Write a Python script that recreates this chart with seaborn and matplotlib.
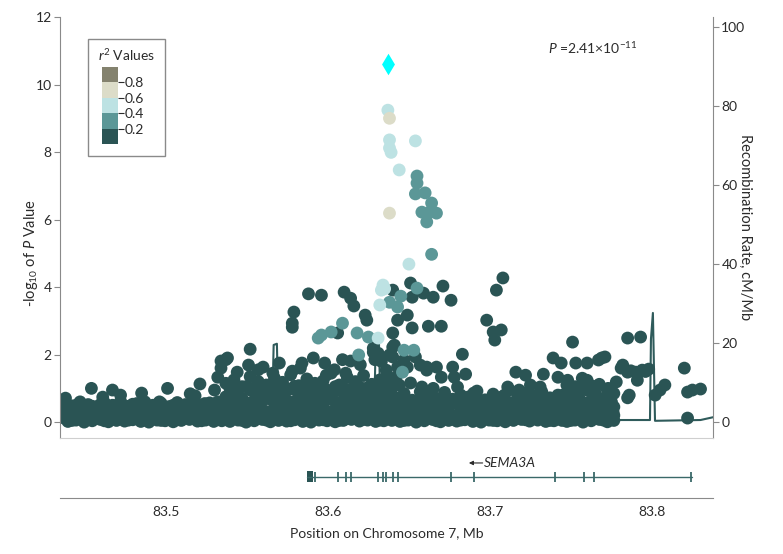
import pandas as pd
import matplotlib
matplotlib.use("Agg")
import matplotlib as mpl
import matplotlib.pyplot as plt
import seaborn as sns
from matplotlib.colors import ListedColormap, BoundaryNorm
from matplotlib.patches import Rectangle

sns.set_style("white")
plt.rcParams['font.family'] = ['Lato', 'DejaVu Sans']
plt.rcParams['mathtext.fontset'] = 'custom'
plt.rcParams['mathtext.rm'] = 'Lato'
plt.rcParams['mathtext.it'] = 'Lato:italic'

# r2 classes and colours
r2_labels = ["0.0-0.2", "0.2-0.4", "0.4-0.6", "0.6-0.8", "0.8-1.0"]
r2_colors = ["#2a5454", "#5b9797", "#bde2e3", "#dcdcc8", "#84826e"]

# lead SNP
lead_pos = [83.637]
lead_logp = [10.62]

# dense band of low-LD SNPs (r2 < 0.2), read row by row
left_pos = [83.437, 83.442, 83.447, 83.452, 83.457, 83.462, 83.467, 83.472, 83.477, 83.482,
            83.487, 83.492, 83.497, 83.502, 83.507, 83.512, 83.517, 83.522, 83.527, 83.532]
left_rows = [
    [0.12, 0.05, 0.18, 0.08, 0.15, 0.04, 0.20, 0.10, 0.06, 0.16, 0.09, 0.13, 0.05, 0.19, 0.07, 0.14, 0.10, 0.04, 0.17, 0.08],
    [0.38, 0.30, 0.34, 0.40, 0.28, 0.36, 0.31, 0.39, 0.33, 0.29, 0.37, 0.32, 0.40, 0.30, 0.35, 0.38, 0.28, 0.36, 0.33, 0.39],
    [0.55, 0.48, 0.60, 0.52, 0.45, 0.58, 0.50, 0.62, 0.47, 0.55, 0.60, 0.50, 0.56, 0.46, 0.58, 0.52, 0.62, 0.49, 0.57, 0.60],
]
left_pos_b = [83.4395, 83.4445, 83.4495, 83.4545, 83.4595, 83.4645, 83.4695, 83.4745, 83.4795, 83.4845,
              83.4895, 83.4945, 83.4995, 83.5045, 83.5095, 83.5145, 83.5195, 83.5245, 83.5295, 83.5345]
left_rows_b = [
    [0.25, 0.22, 0.30, 0.18, 0.27, 0.24, 0.32, 0.20, 0.28, 0.23, 0.26, 0.30, 0.21, 0.29, 0.24, 0.27, 0.19, 0.31, 0.25, 0.22],
    [0.02, 0.06, 0.00, 0.04, 0.08, 0.01, 0.05, 0.03, 0.07, 0.02, 0.00, 0.06, 0.04, 0.01, 0.05, 0.08, 0.03, 0.06, 0.02, 0.04],
    [0.45, 0.50, 0.42, 0.47, 0.52, 0.44, 0.49, 0.46, 0.53, 0.43, 0.48, 0.51, 0.45, 0.50, 0.44, 0.47, 0.52, 0.46, 0.50, 0.48],
]
center_pos = [83.537, 83.542, 83.547, 83.552, 83.557, 83.562, 83.567, 83.572, 83.577, 83.582, 83.587,
              83.592, 83.597, 83.602, 83.607, 83.612, 83.617, 83.622, 83.627, 83.632, 83.637]
center_rows = [
    [0.08, 0.15, 0.05, 0.12, 0.18, 0.06, 0.10, 0.16, 0.04, 0.13, 0.09, 0.20, 0.07, 0.14, 0.05, 0.11, 0.17, 0.08, 0.12, 0.06, 0.15],
    [0.42, 0.35, 0.50, 0.38, 0.46, 0.31, 0.55, 0.40, 0.48, 0.33, 0.52, 0.37, 0.44, 0.30, 0.50, 0.41, 0.36, 0.47, 0.39, 0.45, 0.34],
    [0.75, 0.88, 0.70, 0.95, 0.80, 0.90, 0.72, 0.85, 0.98, 0.78, 0.92, 0.70, 0.86, 0.80, 0.94, 0.76, 0.88, 0.82, 0.90, 0.74, 0.84],
    [1.15, 1.25, 1.05, 1.35, 1.20, 1.10, 1.30, 1.18, 1.40, 1.08, 1.28, 1.15, 1.22, 1.45, 1.10, 1.32, 1.20, 1.38, 1.12, 1.25, 1.30],
]
center_pos_b = [83.5395, 83.5445, 83.5495, 83.5545, 83.5595, 83.5645, 83.5695, 83.5745, 83.5795, 83.5845, 83.5895,
                83.5945, 83.5995, 83.6045, 83.6095, 83.6145, 83.6195, 83.6245, 83.6295, 83.6345, 83.6395]
center_rows_b = [
    [0.25, 0.22, 0.30, 0.18, 0.27, 0.24, 0.32, 0.20, 0.28, 0.23, 0.26, 0.30, 0.21, 0.29, 0.24, 0.27, 0.19, 0.31, 0.25, 0.22, 0.28],
    [0.02, 0.06, 0.00, 0.04, 0.08, 0.01, 0.05, 0.03, 0.07, 0.02, 0.00, 0.06, 0.04, 0.01, 0.05, 0.08, 0.03, 0.06, 0.02, 0.04, 0.05],
    [0.60, 0.66, 0.58, 0.64, 0.62, 0.68, 0.57, 0.65, 0.61, 0.67, 0.59, 0.63, 0.66, 0.60, 0.64, 0.58, 0.67, 0.62, 0.65, 0.60, 0.63],
    [1.00, 0.98, 1.05, 1.02, 0.96, 1.04, 1.00, 0.97, 1.06, 1.01, 0.99, 1.03, 0.95, 1.05, 1.00, 0.98, 1.04, 1.02, 0.97, 1.06, 1.00],
]
right_pos = [83.642, 83.647, 83.652, 83.657, 83.662, 83.667, 83.672, 83.677, 83.682, 83.687, 83.692,
             83.697, 83.702, 83.707, 83.712, 83.717, 83.722, 83.727, 83.732, 83.737, 83.742]
right_rows = [
    [0.10, 0.05, 0.15, 0.08, 0.12, 0.04, 0.18, 0.09, 0.06, 0.14, 0.10, 0.16, 0.05, 0.12, 0.08, 0.18, 0.07, 0.13, 0.10, 0.05, 0.15],
    [0.40, 0.48, 0.35, 0.52, 0.30, 0.45, 0.38, 0.55, 0.42, 0.33, 0.50, 0.37, 0.46, 0.40, 0.53, 0.34, 0.48, 0.41, 0.36, 0.50, 0.44],
    [0.72, 0.85, 0.65, 0.90, 0.78, 0.70, 0.88, 0.68, 0.80, 0.75, 0.92, 0.66, 0.83, 0.74, 0.95, 0.70, 0.86, 0.78, 0.90, 0.72, 0.80],
]
right_pos_b = [83.6445, 83.6495, 83.6545, 83.6595, 83.6645, 83.6695, 83.6745, 83.6795, 83.6845, 83.6895, 83.6945,
               83.6995, 83.7045, 83.7095, 83.7145, 83.7195, 83.7245, 83.7295, 83.7345, 83.7395, 83.7445]
right_rows_b = [
    [0.25, 0.22, 0.30, 0.18, 0.27, 0.24, 0.32, 0.20, 0.28, 0.23, 0.26, 0.30, 0.21, 0.29, 0.24, 0.27, 0.19, 0.31, 0.25, 0.22, 0.28],
    [0.02, 0.06, 0.00, 0.04, 0.08, 0.01, 0.05, 0.03, 0.07, 0.02, 0.00, 0.06, 0.04, 0.01, 0.05, 0.08, 0.03, 0.06, 0.02, 0.04, 0.05],
    [0.60, 0.55, 0.62, 0.58, 0.64, 0.56, 0.61, 0.59, 0.63, 0.57, 0.60, 0.65, 0.55, 0.62, 0.58, 0.61, 0.64, 0.57, 0.60, 0.63, 0.59],
]
far_pos = [83.745, 83.750, 83.755, 83.760, 83.765, 83.770, 83.775]
far_rows = [
    [0.10, 0.05, 0.15, 0.08, 0.12, 0.06, 0.10],
    [0.45, 0.38, 0.50, 0.35, 0.42, 0.48, 0.30],
    [0.80, 0.90, 0.72, 0.95, 0.85, 0.70, 0.60],
]
far_pos_b = [83.7475, 83.7525, 83.7575, 83.7625, 83.7675, 83.7725, 83.7765]
far_rows_b = [
    [0.25, 0.22, 0.30, 0.18, 0.27, 0.24, 0.20],
    [0.02, 0.06, 0.00, 0.04, 0.08, 0.01, 0.05],
    [0.62, 0.66, 0.58, 0.64, 0.60, 0.55, 0.45],
    [1.10, 1.05, 1.15, 1.08, 1.12, 0.95, 0.85],
]

# scattered low-LD SNPs above the band
dark_pos = [83.438, 83.454, 83.461, 83.467, 83.472, 83.485, 83.496, 83.501, 83.515, 83.521, 83.518, 83.530,
            83.532, 83.534, 83.534, 83.537, 83.524,
            83.538, 83.591, 83.584, 83.570, 83.609, 83.614, 83.598, 83.551, 83.560, 83.628, 83.629, 83.636,
            83.544, 83.578, 83.599, 83.552, 83.628, 83.588, 83.596, 83.610, 83.614, 83.616, 83.579, 83.623,
            83.624, 83.578, 83.578, 83.606, 83.583, 83.566, 83.604, 83.620, 83.633, 83.611, 83.557,
            83.640, 83.651, 83.652, 83.659, 83.665, 83.671, 83.676, 83.643, 83.649, 83.652, 83.662, 83.670,
            83.640, 83.638, 83.631, 83.641, 83.643, 83.649, 83.654, 83.640, 83.640, 83.647, 83.642, 83.657,
            83.661, 83.670, 83.678, 83.685, 83.661, 83.667, 83.677, 83.683, 83.644, 83.651, 83.658, 83.665,
            83.680, 83.690, 83.636,
            83.698, 83.702, 83.707, 83.703, 83.704, 83.708, 83.711, 83.731, 83.709, 83.716, 83.722, 83.733,
            83.739, 83.725, 83.718,
            83.751, 83.785, 83.793, 83.820, 83.769, 83.767, 83.771, 83.753, 83.760, 83.744, 83.782, 83.785,
            83.790, 83.794, 83.798, 83.791, 83.778, 83.773, 83.786, 83.785, 83.808, 83.805, 83.802, 83.822,
            83.825, 83.830, 83.822, 83.776, 83.742, 83.748, 83.757, 83.760, 83.754, 83.765, 83.767, 83.781,
            83.787, 83.796]
dark_logp = [0.71, 1.00, 0.74, 0.95, 0.80, 0.86, 0.60, 1.00, 0.84, 1.13, 0.78, 0.95,
             1.33, 1.60, 1.81, 1.85, 0.55,
             1.90, 1.90, 1.75, 1.75, 1.85, 1.81, 1.75, 1.69, 1.63, 2.07, 1.85, 1.54,
             1.48, 1.51, 1.39, 2.16, 2.19, 3.80, 3.76, 3.85, 3.67, 3.44, 3.26, 3.17,
             3.02, 2.93, 2.81, 2.64, 1.60, 1.45, 1.55, 1.70, 1.80, 1.45, 1.55,
             3.91, 4.12, 3.70, 3.82, 3.70, 4.03, 3.61, 3.02, 3.17, 2.79, 2.84, 2.84,
             2.64, 1.99, 2.04, 2.28, 1.63, 1.63, 1.93, 2.22, 1.93, 1.84, 1.33, 1.69,
             1.54, 1.33, 1.33, 1.42, 1.63, 1.63, 1.63, 2.01, 1.10, 1.16, 1.04, 1.00,
             1.04, 0.86, 1.20,
             3.02, 2.67, 2.73, 2.43, 3.91, 4.27, 1.04, 1.04, 0.80, 1.48, 1.39, 1.42,
             1.90, 1.10, 0.95,
             2.37, 2.49, 2.52, 1.60, 1.90, 1.84, 1.93, 1.75, 1.75, 1.75, 1.69, 1.48,
             1.48, 1.54, 1.57, 1.24, 1.19, 1.00, 0.80, 0.72, 1.10, 0.95, 0.80, 0.89,
             0.95, 0.98, 0.12, 0.30, 1.33, 1.24, 1.30, 1.24, 0.95, 1.04, 0.70, 1.60,
             1.52, 1.50]

# r2 0.2-0.4
mid_pos = [83.655, 83.655, 83.654, 83.660, 83.664, 83.658, 83.663, 83.667, 83.661, 83.664, 83.655, 83.645,
           83.643, 83.647, 83.653, 83.646, 83.638, 83.596, 83.602, 83.609, 83.618, 83.625, 83.619, 83.594]
mid_logp = [7.29, 7.08, 6.76, 6.79, 6.49, 6.22, 6.22, 6.19, 5.93, 4.97, 3.97, 3.73,
            3.41, 2.13, 2.13, 1.48, 3.55, 2.58, 2.67, 2.93, 2.64, 2.52, 1.99, 2.49]

# r2 0.4-0.6
light_pos = [83.637, 83.638, 83.638, 83.639, 83.654, 83.644, 83.650, 83.634, 83.633, 83.632, 83.631, 83.635]
light_logp = [9.24, 8.36, 8.12, 7.99, 8.33, 7.47, 4.68, 4.06, 3.91, 3.47, 2.49, 3.95]

# r2 0.6-0.8
beige_pos = [83.638, 83.638]
beige_logp = [9.00, 6.19]

# recombination rate (cM/Mb)
rec_pos = [83.435, 83.460, 83.490, 83.521, 83.540, 83.555, 83.5655, 83.5665, 83.5685, 83.5695,
           83.583, 83.601, 83.620, 83.6285, 83.6295, 83.6315, 83.6325, 83.6355, 83.6365, 83.6385,
           83.657, 83.688, 83.719, 83.743, 83.7645, 83.7655, 83.7665, 83.7705, 83.7715, 83.7725,
           83.780, 83.7988, 83.7994, 83.8006, 83.8019, 83.830, 83.8377]
rec_rate = [0.5, 0.6, 0.5, 0.8, 1.0, 1.2, 1.3, 19.5, 19.8, 1.5,
            1.0, 1.2, 1.5, 1.5, 20.0, 20.2, 1.5, 1.5, 5.0, 1.0,
            0.8, 0.6, 0.8, 0.7, 0.5, 2.3, 0.5, 0.5, 2.5, 0.5,
            0.5, 0.5, 21.0, 27.6, 0.3, 0.5, 1.2]

# SEMA3A gene model
gene_start, gene_end = 83.587, 83.825
first_exon = [83.587, 83.5905]
exon_pos = [83.592, 83.606, 83.611, 83.614, 83.631, 83.634, 83.636, 83.640, 83.643,
            83.676, 83.690, 83.740, 83.758, 83.764, 83.824]
x_ticks = [83.5, 83.6, 83.7, 83.8]

# build the table
rows = []
bands = [(left_pos, left_rows), (left_pos_b, left_rows_b), (center_pos, center_rows),
         (center_pos_b, center_rows_b), (right_pos, right_rows), (right_pos_b, right_rows_b),
         (far_pos, far_rows), (far_pos_b, far_rows_b)]
for pos, band in bands:
    for r in band:
        rows += [(p, v, r2_labels[0]) for p, v in zip(pos, r)]
rows += [(p, v, r2_labels[0]) for p, v in zip(dark_pos, dark_logp)]
rows += [(p, v, r2_labels[1]) for p, v in zip(mid_pos, mid_logp)]
rows += [(p, v, r2_labels[2]) for p, v in zip(light_pos, light_logp)]
rows += [(p, v, r2_labels[3]) for p, v in zip(beige_pos, beige_logp)]
df = pd.DataFrame(rows, columns=["pos", "logp", "r2"])

spine_col = "#8a8a8a"
text_col = "#2b2b2b"
xlim = (83.4346, 83.8377)

fig = plt.figure(figsize=(7.83, 5.54), dpi=100)
ax = fig.add_axes([0.0766, 0.2094, 0.8340, 0.7599])
ax_rec = ax.twinx()

sns.lineplot(x=rec_pos, y=rec_rate, ax=ax_rec, color="#2f5b5b", lw=1.5,
             estimator=None, sort=False)
sns.scatterplot(data=df, x="pos", y="logp", hue="r2", palette=dict(zip(r2_labels, r2_colors)),
                s=85, linewidth=0, alpha=1, legend=False, ax=ax)
sns.scatterplot(x=lead_pos, y=lead_logp, marker="d", color="#00ffff", s=120, linewidth=0, ax=ax)

# points above the recombination line
ax.set_zorder(ax_rec.get_zorder() + 1)
ax.patch.set_visible(False)

ax.set_xlim(*xlim)
ax.set_ylim(-0.47, 12)
ax_rec.set_ylim(-4.05, 102.5)
ax.set_xticks([])
ax.set_yticks(range(0, 13, 2))
ax_rec.set_yticks(range(0, 101, 20))
ax.set_xlabel("")
for s in ["top", "right"]:
    ax.spines[s].set_visible(False)
for s in ["top", "left", "bottom"]:
    ax_rec.spines[s].set_visible(False)
ax.spines["left"].set_color(spine_col)
ax.spines["bottom"].set_color("#cfcfcf")
ax_rec.spines["right"].set_color(spine_col)
ax.tick_params(axis="y", length=4, color=spine_col, labelsize=10, labelcolor=text_col, pad=2, left=True)
ax_rec.tick_params(axis="y", length=4, color=spine_col, labelsize=10, labelcolor=text_col, pad=2, right=True)
ax.set_ylabel("-log$_{10}$ of $P$ Value", fontsize=10.5, color=text_col, va="center")
ax.yaxis.set_label_coords(-0.045, 0.44)
ax_rec.set_ylabel("Recombination Rate, cM/Mb", fontsize=10.5, color=text_col, rotation=270, va="center")
ax_rec.yaxis.set_label_coords(1.049, 0.5)

ax.text(83.7636, 11.08, "$P$ =2.41×10$^{-11}$", ha="center", va="center", fontsize=10, color=text_col)

# r2 legend
fig.patches.append(Rectangle((0.1124, 0.7184), 0.0983, 0.2112, transform=fig.transFigure,
                             fill=False, edgecolor=spine_col, lw=1))
fig.text(0.1622, 0.9007, "$r^2$ Values", ha="center", va="center", fontsize=10, color=text_col)
cax = fig.add_axes([0.1303, 0.7401, 0.0204, 0.139])
cb = mpl.colorbar.ColorbarBase(cax, cmap=ListedColormap(r2_colors),
                               norm=BoundaryNorm([0, 0.2, 0.4, 0.6, 0.8, 1.0], 5),
                               ticks=[0.2, 0.4, 0.6, 0.8])
cb.minorticks_off()
cb.outline.set_visible(False)
cax.tick_params(length=4, labelsize=10, labelcolor=text_col, color=text_col, pad=1)

# gene track
gax = fig.add_axes([0.0766, 0.1011, 0.8340, 0.0866])
gax.set_xlim(*xlim)
gax.set_ylim(0, 1)
gene_col = "#3a6969"
gax.plot([gene_start, gene_end], [0.44, 0.44], color=gene_col, lw=1)
gax.vlines(exon_pos, 0.34, 0.54, color=gene_col, lw=1.3)
gax.fill_between(first_exon, 0.33, 0.56, color="#2a5454", lw=0)
gax.annotate("", xy=(83.687, 0.73), xytext=(83.6955, 0.73),
             arrowprops=dict(arrowstyle="-|>", color=text_col, lw=0.8, mutation_scale=6,
                             shrinkA=0, shrinkB=0))
gax.text(83.6962, 0.73, "SEMA3A", style="italic", ha="left", va="center", fontsize=10, color=text_col)
for s in ["top", "left", "right"]:
    gax.spines[s].set_visible(False)
gax.spines["bottom"].set_color(spine_col)
gax.set_yticks([])
gax.set_xticks(x_ticks)
gax.set_xticklabels([f"{t:.1f}" for t in x_ticks])
gax.tick_params(axis="x", length=0, pad=6, labelsize=10, labelcolor=text_col)
gax.set_xlabel("Position on Chromosome 7, Mb", fontsize=10, color=text_col, labelpad=6)

fig.savefig("out.png", dpi=100)
